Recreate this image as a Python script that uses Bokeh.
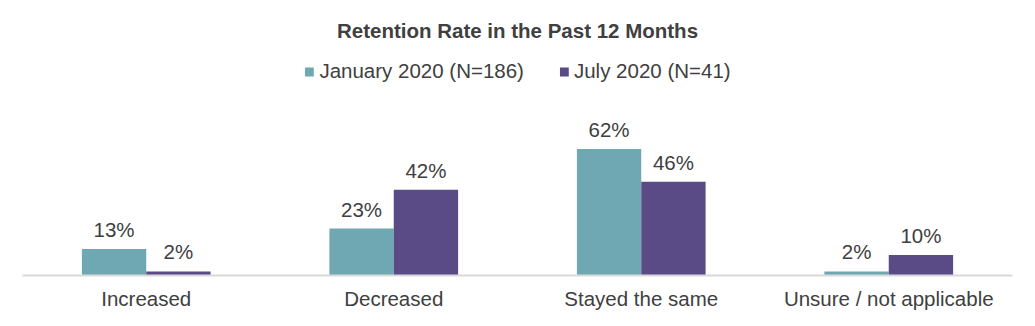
from bokeh.plotting import figure
from bokeh.models import ColumnDataSource, FactorRange, Range1d, Legend, LegendItem, LabelSet
from bokeh.core.properties import value
from bokeh.transform import dodge
from bokeh.embed import file_html
from bokeh.resources import INLINE

categories = ["Increased", "Decreased", "Stayed the same", "Unsure / not applicable"]
series_names = ["January 2020 (N=186)", "July 2020 (N=41)"]
jan_2020 = [13, 23, 62, 2]
jul_2020 = [2, 42, 46, 10]

TEAL = "#6fa8b2"
PURPLE = "#5a4a86"
TXT = "#404040"
FONT = "Liberation Sans"

src = ColumnDataSource(dict(
    cat=categories,
    jan=jan_2020,
    jul=jul_2020,
    jan_lbl=[f"{v}%" for v in jan_2020],
    jul_lbl=[f"{v}%" for v in jul_2020],
))

p = figure(
    width=1035, height=326,
    x_range=FactorRange(*categories, range_padding=0),
    y_range=Range1d(0, 106.9),
    output_backend="svg", toolbar_location=None,
    title="Retention Rate in the Past 12 Months",
    min_border_left=22, min_border_right=23, min_border_bottom=51, min_border_top=0,
)
p.title.align = "center"
p.title.text_font = FONT
p.title.text_font_size = "20.5px"
p.title.text_font_style = "bold"
p.title.text_color = TXT
p.title.padding = 11

bw = 0.26
r1 = p.vbar(x=dodge("cat", -bw / 2, range=p.x_range), top="jan", width=bw, source=src,
            fill_color=TEAL, line_color=None)
r2 = p.vbar(x=dodge("cat", bw / 2, range=p.x_range), top="jul", width=bw, source=src,
            fill_color=PURPLE, line_color=None)

for col, lbl, off in (("jan", "jan_lbl", -bw / 2), ("jul", "jul_lbl", bw / 2)):
    ls = LabelSet(x=dodge("cat", off, range=p.x_range), y=col, text=lbl, source=src,
                  text_align="center", text_baseline="alphabetic", y_offset=12,
                  text_font=value(FONT), text_font_size=value("20.5px"), text_color=TXT)
    p.add_layout(ls)

legend = Legend(items=[LegendItem(label=series_names[0], renderers=[r1]),
                       LegendItem(label=series_names[1], renderers=[r2])],
                orientation="horizontal", location="top_center",
                glyph_width=11, glyph_height=11, label_standoff=5, spacing=34,
                padding=0, margin=2, border_line_color=None, background_fill_alpha=0,
                label_text_font=FONT, label_text_font_size="20.5px", label_text_color=TXT)
p.add_layout(legend)

p.yaxis.visible = False
p.xgrid.visible = False
p.ygrid.visible = False
p.outline_line_color = None
p.xaxis.axis_line_color = "#d9d9d9"
p.xaxis.axis_line_width = 2
p.xaxis.major_tick_line_color = None
p.xaxis.minor_tick_line_color = None
p.xaxis.major_label_text_font = FONT
p.xaxis.major_label_text_font_size = "20.5px"
p.xaxis.major_label_text_color = TXT
p.xaxis.major_label_standoff = 5

open("out.html", "w").write(file_html(p, INLINE))
